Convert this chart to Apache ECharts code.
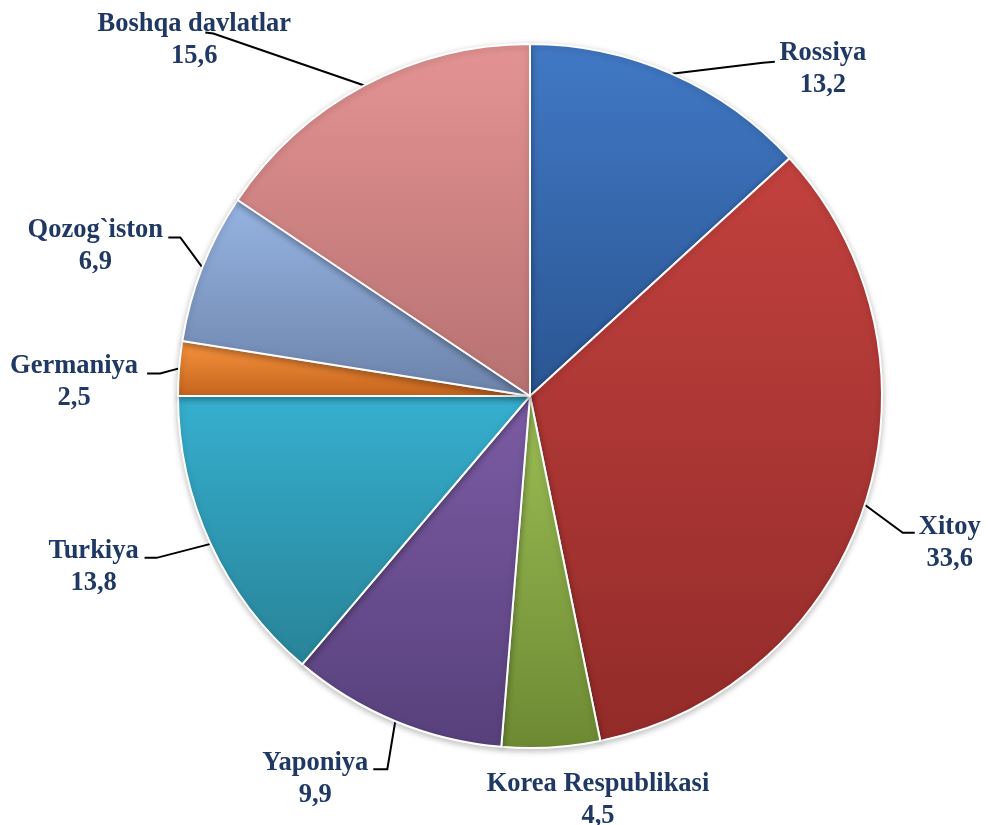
<!DOCTYPE html>
<html>
<head>
<meta charset="utf-8">
<script src="https://cdn.jsdelivr.net/npm/echarts@6/dist/echarts.min.js"></script>
<style>
  html, body { margin: 0; padding: 0; background: #fff; }
  #chart { width: 989px; height: 825px; }
</style>
</head>
<body>
<div id="chart"></div>
<script>
// davlatlar va ulushlar (%)
const countries = ['Rossiya', 'Xitoy', 'Korea Respublikasi', 'Yaponiya', 'Turkiya', 'Germaniya', 'Qozog`iston', 'Boshqa davlatlar']
const shares = [13.2, 33.6, 4.5, 9.9, 13.8, 2.5, 6.9, 15.6]

// gradient ranglar: yuqori / past
const topColors = ['#4179c5', '#c2413e', '#9cbe55', '#7c5ca5', '#36afcf', '#f8943f', '#96b4e2', '#e49393']
const bottomColors = ['#2a5592', '#922b29', '#6d8a33', '#57407b', '#288397', '#c4641c', '#6c83aa', '#b77171']

// yorliqlar joyi: sektor chetidagi nuqtaga nisbatan siljish (px)
const labelPlace = [
  {line: [[91, -11], [103, -12]], cx: 151, top: -37},
  {line: [[38, 28], [50, 28]], cx: 85, top: 6},
  {line: null, cx: 47, top: 21},
  {line: [[-8, 48], [-22, 48]], cx: -80, top: 26},
  {line: [[-54, 14], [-66, 14]], cx: -117, top: -9},
  {line: [[-19, 5], [-32, 5]], cx: -105, top: -18},
  {line: [[-22, -30], [-34, -30]], cx: -107, top: -53},
  {line: [[-151, -52], [-159, -53]], cx: -170, top: -77}
]

const chart = echarts.init(document.getElementById('chart'))

const fmt = v => v.toFixed(1).replace('.', ',')

const data = countries.map((name, i) => ({
  name: name,
  value: shares[i],
  itemStyle: {
    color: new echarts.graphic.LinearGradient(0, 0, 0, 1, [
      {offset: 0, color: topColors[i]},
      {offset: 1, color: bottomColors[i]}
    ])
  }
}))

chart.setOption({
  animation: false,
  series: [{
    type: 'pie',
    center: [530, 396],
    radius: 352,
    startAngle: 90,
    clockwise: true,
    avoidLabelOverlap: false,
    data: data,
    itemStyle: {
      borderColor: '#ffffff',
      borderWidth: 2,
      shadowColor: 'rgba(0,0,0,0.25)',
      shadowBlur: 6,
      shadowOffsetY: 2
    },
    label: {
      show: true,
      position: 'outside',
      formatter: p => p.name + '\n' + fmt(p.value),
      fontFamily: 'Liberation Serif',
      fontWeight: 'bold',
      fontSize: 26.5,
      lineHeight: 32,
      color: '#1f3864'
    },
    labelLine: {
      show: true,
      length: 20,
      length2: 12,
      lineStyle: {color: '#000', width: 2}
    },
    labelLayout: params => {
      const pl = labelPlace[params.dataIndex]
      const e = params.labelLinePoints[0]
      const pts = pl.line
        ? [e, [e[0] + pl.line[0][0], e[1] + pl.line[0][1]], [e[0] + pl.line[1][0], e[1] + pl.line[1][1]]]
        : [e, e, e]
      return {
        x: e[0] + pl.cx,
        y: e[1] + pl.top,
        align: 'center',
        verticalAlign: 'top',
        labelLinePoints: pts
      }
    }
  }]
})
</script>
</body>
</html>
